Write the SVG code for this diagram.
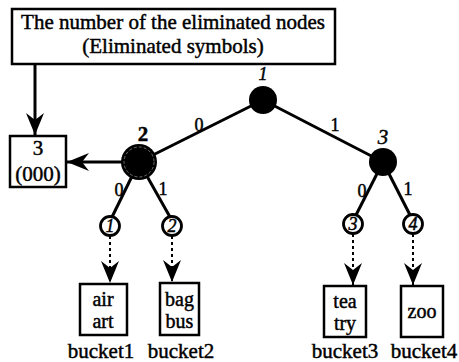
<svg xmlns="http://www.w3.org/2000/svg" width="459" height="362" viewBox="0 0 459 362">
<defs>
<style>
text{font-family:'Liberation Serif','DejaVu Serif',serif;fill:#000;stroke:#000;stroke-width:0.45}
.t21{font-size:21px}
.t22{font-size:20px}
.lbl{font-size:18px}
.it{font-style:italic}
.box{fill:#fff;stroke:#000;stroke-width:2.5}
.edge{stroke:#000;stroke-width:3;fill:none}
.dash{stroke:#000;stroke-width:2;stroke-dasharray:3 3;fill:none}
.leaf{fill:#fff;stroke:#000;stroke-width:2.8}
</style>
<marker id="barb" markerUnits="userSpaceOnUse" markerWidth="24" markerHeight="20" refX="22" refY="10" orient="auto">
<path d="M22,10 L0,1 L7,10 L0,19 Z" fill="#000"/>
</marker>
</defs>
<rect width="459" height="362" fill="#fff"/>

<g id="connectors" font-family="Liberation Serif, DejaVu Serif, serif">
<line class="edge" x1="263" y1="100" x2="139" y2="162"/>
<line class="edge" x1="263" y1="100" x2="383" y2="162"/>
<line class="edge" x1="139" y1="162" x2="112" y2="217"/>
<line class="edge" x1="139" y1="162" x2="170" y2="217"/>
<line class="edge" x1="383" y1="162" x2="356" y2="215"/>
<line class="edge" x1="383" y1="162" x2="410" y2="215"/>
<line class="edge" x1="35" y1="64" x2="35" y2="135" stroke-width="2.5" marker-end="url(#barb)"/>
<line class="edge" x1="122" y1="162" x2="67" y2="162" stroke-width="2.5" marker-end="url(#barb)"/>
<line class="dash" x1="110" y1="236" x2="110" y2="283" marker-end="url(#barb)"/>
<line class="dash" x1="172" y1="236" x2="172" y2="282" marker-end="url(#barb)"/>
<line class="dash" x1="353" y1="234" x2="353" y2="285" marker-end="url(#barb)"/>
<line class="dash" x1="413" y1="234" x2="413" y2="285" marker-end="url(#barb)"/>
<text class="lbl" x="199" y="131" text-anchor="middle">0</text>
<text class="lbl" x="335" y="131" text-anchor="middle">1</text>
<text class="lbl" x="119" y="196" text-anchor="middle">0</text>
<text class="lbl" x="163" y="195" text-anchor="middle">1</text>
<text class="lbl" x="362" y="197" text-anchor="middle">0</text>
<text class="lbl" x="408" y="195" text-anchor="middle">1</text>
</g>

<g id="legend" font-family="Liberation Serif, DejaVu Serif, serif">
<rect class="box" x="12" y="9" width="323" height="55"/>
<text class="t21" x="173" y="29" text-anchor="middle">The number of the eliminated nodes</text>
<text class="t21" x="173" y="53" text-anchor="middle">(Eliminated symbols)</text>
</g>

<g id="eliminated" font-family="Liberation Serif, DejaVu Serif, serif">
<rect class="box" x="10" y="136" width="56" height="51"/>
<text class="t21" x="38" y="155" text-anchor="middle">3</text>
<text class="t21" x="38" y="181" text-anchor="middle">(000)</text>
</g>

<g id="node1" font-family="Liberation Serif, DejaVu Serif, serif">
<circle cx="263" cy="100" r="14" fill="#000"/>
<text class="lbl it" x="263" y="80" text-anchor="middle">1</text>
</g>

<g id="node2" font-family="Liberation Serif, DejaVu Serif, serif">
<circle cx="139" cy="162" r="18" fill="#000"/>
<circle cx="139" cy="162" r="15" fill="none" stroke="#888" stroke-width="0.8" stroke-dasharray="3 2"/>
<text class="t21" x="143" y="141" text-anchor="middle" font-weight="bold">2</text>
</g>

<g id="node3" font-family="Liberation Serif, DejaVu Serif, serif">
<circle cx="383" cy="162" r="14" fill="#000"/>
<text class="t21 it" x="383" y="144" text-anchor="middle">3</text>
</g>

<g id="leaf1" font-family="Liberation Serif, DejaVu Serif, serif">
<circle class="leaf" cx="110" cy="226" r="9.5"/>
<text class="lbl it" x="110" y="232" text-anchor="middle">1</text>
</g>
<g id="leaf2" font-family="Liberation Serif, DejaVu Serif, serif">
<circle class="leaf" cx="172" cy="226" r="9.5"/>
<text class="lbl it" x="172" y="232" text-anchor="middle">2</text>
</g>
<g id="leaf3" font-family="Liberation Serif, DejaVu Serif, serif">
<circle class="leaf" cx="353" cy="224" r="9.5"/>
<text class="lbl it" x="353" y="230" text-anchor="middle">3</text>
</g>
<g id="leaf4" font-family="Liberation Serif, DejaVu Serif, serif">
<circle class="leaf" cx="413" cy="224" r="9.5"/>
<text class="lbl it" x="413" y="230" text-anchor="middle">4</text>
</g>

<g id="bucket1" font-family="Liberation Serif, DejaVu Serif, serif">
<rect class="box" x="80" y="284" width="47" height="51"/>
<text class="t22" x="103" y="306" text-anchor="middle">air</text>
<text class="t22" x="103" y="328" text-anchor="middle">art</text>
<text class="t21" x="101" y="358" text-anchor="middle">bucket1</text>
</g>
<g id="bucket2" font-family="Liberation Serif, DejaVu Serif, serif">
<rect class="box" x="160" y="283" width="39" height="52"/>
<text class="t22" x="179.5" y="306" text-anchor="middle">bag</text>
<text class="t22" x="179.5" y="328" text-anchor="middle">bus</text>
<text class="t21" x="181" y="358" text-anchor="middle">bucket2</text>
</g>
<g id="bucket3" font-family="Liberation Serif, DejaVu Serif, serif">
<rect class="box" x="324" y="286" width="42" height="51"/>
<text class="t22" x="345" y="308" text-anchor="middle">tea</text>
<text class="t22" x="345" y="330" text-anchor="middle">try</text>
<text class="t21" x="345" y="358" text-anchor="middle">bucket3</text>
</g>
<g id="bucket4" font-family="Liberation Serif, DejaVu Serif, serif">
<rect class="box" x="401" y="286" width="42" height="51"/>
<text class="t22" x="422" y="318" text-anchor="middle">zoo</text>
<text class="t21" x="424" y="358" text-anchor="middle">bucket4</text>
</g>
</svg>
